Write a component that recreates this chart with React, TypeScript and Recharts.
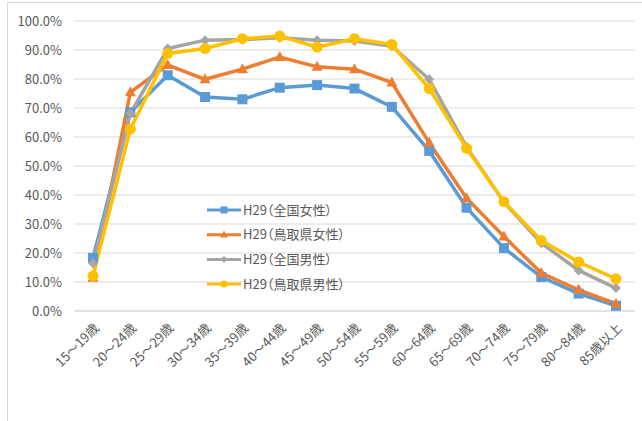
import React from 'react';
import { LineChart, Line, XAxis, YAxis, CartesianGrid } from 'recharts';

const ages = [
  '15～19歳', '20～24歳', '25～29歳', '30～34歳', '35～39歳', '40～44歳', '45～49歳',
  '50～54歳', '55～59歳', '60～64歳', '65～69歳', '70～74歳', '75～79歳', '80～84歳', '85歳以上',
];
const zenkokuJosei = [18.3, 68.5, 81.3, 73.8, 73.0, 77.0, 77.9, 76.7, 70.4, 55.2, 35.6, 21.7, 11.7, 6.0, 1.8];
const tottoriJosei = [11.5, 75.4, 84.8, 79.9, 83.4, 87.6, 84.2, 83.4, 78.8, 58.0, 38.9, 25.7, 13.1, 7.3, 2.5];
const zenkokuDansei = [16.5, 68.1, 90.5, 93.4, 93.6, 94.2, 93.4, 93.1, 91.3, 79.9, 56.6, 37.5, 23.4, 14.0, 7.9];
const tottoriDansei = [12.1, 62.7, 88.8, 90.5, 93.9, 94.8, 91.0, 93.9, 91.9, 76.7, 56.1, 37.7, 24.3, 16.9, 11.1];
const yTicks = [0, 10, 20, 30, 40, 50, 60, 70, 80, 90, 100];

const data = ages.map((age, i) => ({
  age,
  zj: zenkokuJosei[i],
  tj: tottoriJosei[i],
  zd: zenkokuDansei[i],
  td: tottoriDansei[i],
}));

const font = '"Noto Sans CJK JP", "Noto Sans", sans-serif';
const textColor = '#595959';

type Shape = 'square' | 'triangle' | 'diamond' | 'circle';

const Marker = ({ cx, cy, shape, color, s }: { cx: number; cy: number; shape: Shape; color: string; s: number }) => {
  if (cx == null || cy == null) return null;
  if (shape === 'square') return <rect x={cx - s} y={cy - s} width={s * 2} height={s * 2} fill={color} />;
  if (shape === 'triangle')
    return <polygon points={`${cx},${cy - s * 1.2} ${cx + s * 1.1},${cy + s * 0.8} ${cx - s * 1.1},${cy + s * 0.8}`} fill={color} />;
  if (shape === 'diamond')
    return <polygon points={`${cx},${cy - s} ${cx + s},${cy} ${cx},${cy + s} ${cx - s},${cy}`} fill={color} />;
  return <circle cx={cx} cy={cy} r={s} fill={color} />;
};

const series = [
  { key: 'zj', name: 'H29（全国女性）', color: '#5B9BD5', shape: 'square' as Shape, s: 5 },
  { key: 'tj', name: 'H29（鳥取県女性）', color: '#ED7D31', shape: 'triangle' as Shape, s: 5 },
  { key: 'zd', name: 'H29（全国男性）', color: '#A5A5A5', shape: 'diamond' as Shape, s: 5 },
  { key: 'td', name: 'H29（鳥取県男性）', color: '#FFC000', shape: 'circle' as Shape, s: 5.5 },
];

const AgeTick = (props: any) => {
  const { x, payload } = props;
  return (
    <g transform={`translate(${x + 4},${326})`}>
      <text textAnchor="end" transform="rotate(-45)" fontSize={13} fill={textColor} fontFamily={font} dy={4}>
        {payload.value}
      </text>
    </g>
  );
};

const LegendBox = () => (
  <svg width={170} height={100} style={{ position: 'absolute', left: 207, top: 200 }}>
    {series.map((s, i) => {
      const y = 10 + i * 24.7;
      return (
        <g key={s.key}>
          <line x1={0} x2={34} y1={y} y2={y} stroke={s.color} strokeWidth={3} />
          <Marker cx={17} cy={y} shape={s.shape} color={s.color} s={3.5} />
          <text
            x={36}
            y={y}
            dy={4.5}
            fontSize={13}
            fill={textColor}
            fontFamily={font}
            style={{ fontFeatureSettings: '"palt"' }}
          >
            {s.name}
          </text>
        </g>
      );
    })}
  </svg>
);

export default function App() {
  return (
    <div style={{ position: 'absolute', left: 0, top: 0, width: 642, height: 421, overflow: 'hidden', background: '#fff' }}>
      <div style={{ position: 'absolute', left: 7, top: 2, width: 700, height: 500, border: '1px solid #d9d9d9' }} />
      <div style={{ position: 'absolute', left: 0, top: 0 }}>
        <LineChart width={642} height={421} data={data} margin={{ top: 21, right: 7, left: 0, bottom: 0 }}>
          <CartesianGrid vertical={false} stroke="#d9d9d9" strokeWidth={1.2} />
          <XAxis
            dataKey="age"
            interval={0}
            padding={{ left: 19, right: 19 }}
            axisLine={{ stroke: '#d9d9d9', strokeWidth: 1.2 }}
            tickLine={false}
            tick={<AgeTick />}
            height={110}
          />
          <YAxis
            width={74}
            domain={[0, 100]}
            ticks={yTicks}
            axisLine={false}
            tickLine={false}
            tickMargin={6}
            tickFormatter={(v: number) => `${v.toFixed(1)}%`}
            tick={{ fontSize: 13, fill: textColor, fontFamily: font }}
          />
          {series.map((s) => (
            <Line
              key={s.key}
              dataKey={s.key}
              name={s.name}
              stroke={s.color}
              strokeWidth={3.5}
              isAnimationActive={false}
              dot={(p: any) => <Marker key={`${s.key}-${p.index}`} cx={p.cx} cy={p.cy} shape={s.shape} color={s.color} s={s.s} />}
              activeDot={false}
            />
          ))}
        </LineChart>
      </div>
      <LegendBox />
    </div>
  );
}
